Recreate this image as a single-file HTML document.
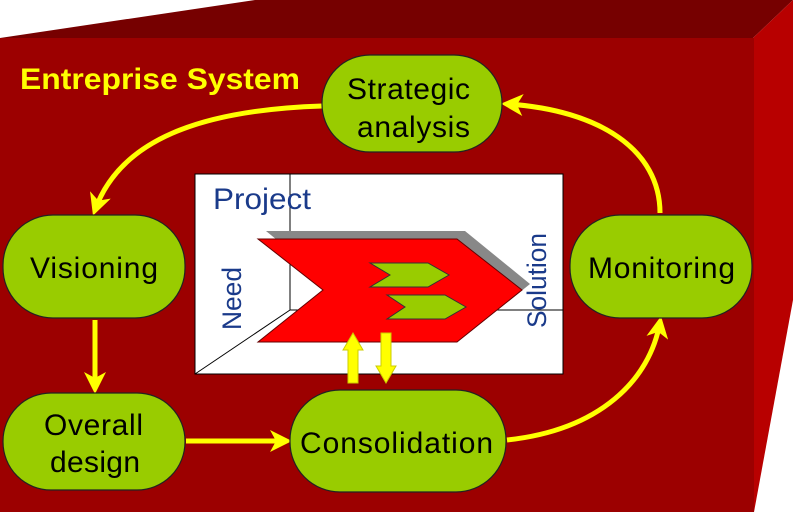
<!DOCTYPE html>
<html><head><style>body{margin:0;background:#fff}svg{display:block}</style></head><body>
<svg width="793" height="512" viewBox="0 0 793 512" xmlns="http://www.w3.org/2000/svg" font-family="Liberation Sans, sans-serif">
<polygon points="0,38 255,0 793,0 753,38" fill="#760000"/>
<polygon points="753,38 793,0 793,300 754,512" fill="#b80000"/>
<rect x="0" y="38" width="754" height="474" fill="#9c0000"/>
<text x="20" y="89" font-size="30" font-weight="bold" fill="#ffff00" textLength="280" lengthAdjust="spacingAndGlyphs">Entreprise System</text>
<defs><marker id="ah2" markerWidth="22" markerHeight="22" refX="16" refY="11" orient="auto" markerUnits="userSpaceOnUse"><path d="M0,0 L22,11 L0,22 L6,11 z" fill="#ffff00"/></marker></defs>
<g fill="none" stroke="#ffff00" stroke-width="5">
<path d="M322,106 C200,110 120,140 95,210" marker-end="url(#ah2)"/>
<path d="M660,213 C660,150 600,110 507,104" marker-end="url(#ah2)"/>
<path d="M95,320 L95,388" marker-end="url(#ah2)"/>
<path d="M186,441 L286,441" marker-end="url(#ah2)"/>
<path d="M507,440 C600,430 650,380 660,322" marker-end="url(#ah2)"/>
</g>
<rect x="195" y="174" width="368" height="200" fill="#fff" stroke="#000"/>
<g stroke="#000" stroke-width="1"><line x1="290" y1="174" x2="290" y2="310"/><line x1="290" y1="310" x2="563" y2="310"/><line x1="290" y1="310" x2="195" y2="374"/></g>
<text x="213" y="209" font-size="30" fill="#1a3a8a" textLength="98" lengthAdjust="spacingAndGlyphs">Project</text>
<text transform="translate(241,330) rotate(-90)" font-size="27" fill="#1a3a8a" textLength="63" lengthAdjust="spacingAndGlyphs">Need</text>
<text transform="translate(546,328) rotate(-90)" font-size="27" fill="#1a3a8a" textLength="95" lengthAdjust="spacingAndGlyphs">Solution</text>
<polygon points="266,231 465,231 530,284 465,336 266,336 331,284" fill="#888"/>
<polygon points="258,239 457,239 522,290 457,342 258,342 323,290" fill="#ff0000" stroke="#600" stroke-width="1"/>
<polygon points="370,263 428,263 449,275 428,287 370,287 390,275" fill="#99cc00" stroke="#333"/>
<polygon points="387,295 445,295 466,307 445,319 387,319 405,307" fill="#99cc00" stroke="#333"/>
<polygon points="348,383 348,350 343,350 353,333 363,350 358,350 358,383" fill="#ffff00" stroke="#cc0" stroke-width="1"/>
<polygon points="381,333 381,366 376,366 386,383 396,366 391,366 391,333" fill="#ffff00" stroke="#cc0" stroke-width="1"/>
<g fill="#99cc00" stroke="#222" stroke-width="1.2">
<rect x="322" y="55" width="180" height="97" rx="48"/>
<rect x="3" y="215" width="182" height="103" rx="50"/>
<rect x="570" y="215" width="182" height="103" rx="50"/>
<rect x="3" y="393" width="182" height="97" rx="48"/>
<rect x="290" y="390" width="216" height="102" rx="50"/>
</g>
<g font-size="30" fill="#000" lengthAdjust="spacingAndGlyphs">
<text x="347" y="99" textLength="123">Strategic</text><text x="357" y="137" textLength="113">analysis</text>
<text x="30" y="278" textLength="128">Visioning</text>
<text x="588" y="278" textLength="147">Monitoring</text>
<text x="44" y="435" textLength="99">Overall</text><text x="50" y="472" textLength="90">design</text>
<text x="300" y="453" textLength="193">Consolidation</text>
</g>
</svg>
</body></html>
